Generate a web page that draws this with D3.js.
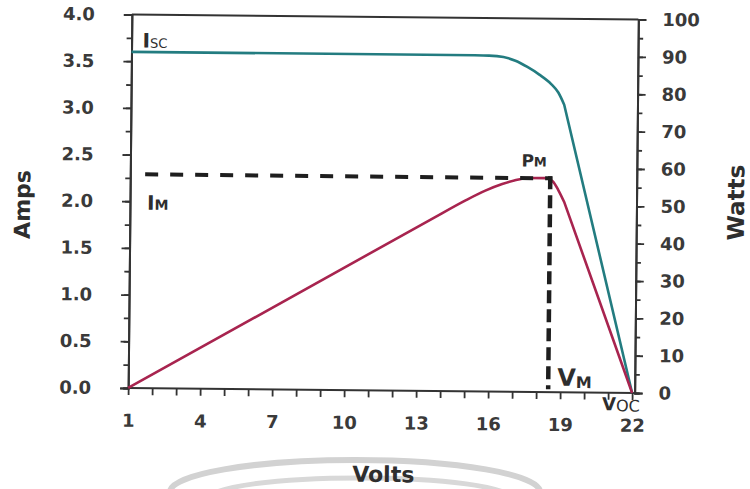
<!DOCTYPE html>
<html>
<head>
<meta charset="utf-8">
<script src="https://cdn.jsdelivr.net/npm/d3@7"></script>
<style>
  body { margin: 0; background: #fff; }
  svg { display: block; }
  text { font-family: "DejaVu Sans", sans-serif; fill: #2e2e2e; }
</style>
</head>
<body>
<svg id="chart" width="750" height="489"></svg>
<script>
'use strict'

// volts along the bottom, amps on the left, watts on the right
const voltTicks = [1, 4, 7, 10, 13, 16, 19, 22]
const ampTicks = [0, 0.5, 1, 1.5, 2, 2.5, 3, 3.5, 4]
const wattTicks = [0, 10, 20, 30, 40, 50, 60, 70, 80, 90, 100]

// I-V curve (amps)
const currentVolts = [1, 15.3, 15.9, 16.5, 17, 17.5, 18, 18.5, 18.8, 19.05, 22]
const currentAmps = [3.6, 3.6, 3.598, 3.585, 3.545, 3.48, 3.4, 3.3, 3.21, 3.08, 0]

// P-V curve (watts)
const powerVolts = [1, 14, 15, 15.8, 16.5, 17, 17.6, 18.3, 18.6, 18.85, 19.1, 22]
const powerWatts = [0, 47.6, 51.2, 53.8, 55.6, 56.6, 57.3, 57.3, 56.5, 54, 50.8, 0]

// maximum power point
const vMax = 18.5
const iMax = 2.29
const dashStart = 1.62

const svg = d3.select('#chart')

// scan artefact arcs at the bottom
svg.append('ellipse')
  .attr('cx', 355).attr('cy', 492).attr('rx', 185).attr('ry', 32)
  .style('fill', 'none').style('stroke', '#d2d2d2').style('stroke-width', 6)
svg.append('ellipse')
  .attr('cx', 360).attr('cy', 498).attr('rx', 150).attr('ry', 20)
  .style('fill', 'none').style('stroke', '#d8d8d8').style('stroke-width', 5)

// the scan is tilted a little clockwise
const g = svg.append('g').attr('transform', 'rotate(0.57, 382, 204)')

const x = d3.scaleLinear().domain([1, 22]).range([130, 634])
const yA = d3.scaleLinear().domain([0, 4]).range([390.5, 17])
const yW = d3.scaleLinear().domain([0, 100]).range([390.5, 17])
const rightX = x(22) + 2.5

// top border
g.append('line')
  .attr('x1', x(1)).attr('x2', rightX)
  .attr('y1', yA(4)).attr('y2', yA(4))
  .style('stroke', '#333').style('stroke-width', 2)

function styleAxis (sel) {
  sel.select('.domain').style('stroke', '#333').style('stroke-width', 2)
  sel.selectAll('.tick line').style('stroke', '#333').style('stroke-width', 1.8)
  sel.selectAll('.tick text')
    .style('font-size', '18px').style('font-weight', 'bold')
    .style('fill', '#3a3a3a').style('font-family', '"DejaVu Sans", sans-serif')
}

// left axis, minor then major
g.append('g').attr('transform', `translate(${x(1)},0)`)
  .call(d3.axisLeft(yA).tickValues(d3.range(0, 4.01, 0.25)).tickSize(5).tickFormat(''))
  .call(styleAxis)
g.append('g').attr('transform', `translate(${x(1)},0)`)
  .call(d3.axisLeft(yA).tickValues(ampTicks).tickSize(8).tickPadding(29).tickFormat(d3.format('.1f')))
  .call(styleAxis)

// right axis
g.append('g').attr('transform', `translate(${rightX},0)`)
  .call(d3.axisRight(yW).tickValues(d3.range(0, 101, 5)).tickSize(5).tickFormat(''))
  .call(styleAxis)
g.append('g').attr('transform', `translate(${rightX},0)`)
  .call(d3.axisRight(yW).tickValues(wattTicks).tickSize(8).tickPadding(16).tickFormat(d3.format('d')))
  .call(styleAxis)

// bottom axis
const xAxis = g.append('g').attr('transform', `translate(0,${yA(0)})`)
  .call(d3.axisBottom(x).tickValues(d3.range(1, 23)).tickSize(7).tickPadding(19)
    .tickFormat(d => voltTicks.includes(d) ? d : ''))
  .call(styleAxis)
xAxis.select('.domain').attr('d', `M${x(1)},0H${rightX}`)

// curves: straight first leg, smooth knee, straight tail down to Voc
function drawCurve (vs, vals, yScale, color) {
  const pts = vs.map((v, i) => [x(v), yScale(vals[i])])
  const n = pts.length
  const knee = d3.line().curve(d3.curveMonotoneX)(pts.slice(1, n - 1))
  const d = `M${pts[0]}L${pts[1]}` + knee.replace(/^M[^CL]*/, '') + `L${pts[n - 1]}`
  g.append('path')
    .attr('d', d)
    .style('fill', 'none').style('stroke', color)
    .style('stroke-width', 2.6).style('stroke-linejoin', 'round')
}

drawCurve(currentVolts, currentAmps, yA, '#237c80')
drawCurve(powerVolts, powerWatts, yW, '#a8244f')

// max power dashes
g.append('line')
  .attr('x1', x(dashStart)).attr('x2', x(vMax) + 2)
  .attr('y1', yA(iMax)).attr('y2', yA(iMax))
  .style('stroke', '#1e1e1e').style('stroke-width', 4)
  .style('stroke-dasharray', '13 12')
g.append('line')
  .attr('x1', x(vMax)).attr('x2', x(vMax))
  .attr('y1', yA(iMax) - 2).attr('y2', yA(0) - 3)
  .style('stroke', '#1e1e1e').style('stroke-width', 4.5)
  .style('stroke-dasharray', '13 6')

// annotations with small-cap subscripts
function label (px, py, big, bigSize, small, smallSize, smallDy, smallWeight) {
  const t = g.append('text').attr('x', px).attr('y', py)
  t.append('tspan').text(big).style('font-size', bigSize + 'px').style('font-weight', 'bold')
  t.append('tspan').text(small).attr('dy', smallDy)
    .style('font-size', smallSize + 'px').style('font-weight', smallWeight)
}

label(141, 50, 'I', 20, 'SC', 13, 0, 'normal')
label(147, 212, 'I', 20, 'M', 14, 0, 'bold')
label(521, 165, 'P', 17, 'M', 13, 0, 'bold')
label(559, 384, 'V', 24, 'M', 16, 2, 'bold')
label(604, 408, 'V', 18, 'OC', 16, 1, 'normal')

// axis titles
g.append('text')
  .attr('transform', 'translate(30,208) rotate(-90)')
  .attr('text-anchor', 'middle')
  .style('font-size', '22px').style('font-weight', 'bold')
  .text('Amps')

g.append('text')
  .attr('transform', 'translate(744,199) rotate(-90)')
  .attr('text-anchor', 'middle')
  .style('font-size', '23px').style('font-weight', 'bold')
  .text('Watts')

g.append('text')
  .attr('x', 386).attr('y', 482)
  .attr('text-anchor', 'middle')
  .style('font-size', '22px').style('font-weight', 'bold')
  .text('Volts')
</script>
</body>
</html>
